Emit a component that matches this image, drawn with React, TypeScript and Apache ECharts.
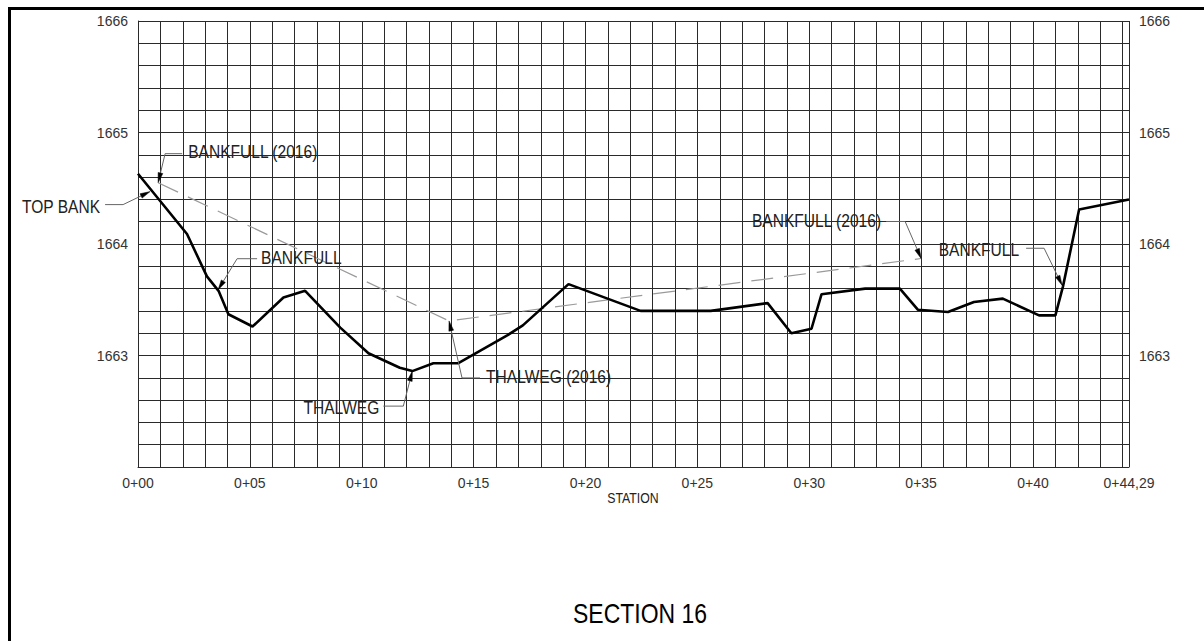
import React, { useEffect, useRef } from "react";
import * as echarts from "echarts";

// ---- data ----
const profileStations = [0, 2.19, 3.08, 3.6, 4.04, 5.12, 6.5, 7.47, 9.04, 10.3, 11.7, 12.26, 13.2, 14.3, 16.5, 17.2, 19.24, 22.46, 25.6, 28.14, 29.2, 30.1, 30.55, 32.5, 34.05, 34.86, 36.2, 37.36, 38.65, 40.27, 41.0, 41.34, 42.06, 44.29];
const profileElevations = [1664.63, 1664.09, 1663.71, 1663.58, 1663.37, 1663.26, 1663.52, 1663.58, 1663.25, 1663.02, 1662.89, 1662.86, 1662.93, 1662.93, 1663.18, 1663.27, 1663.64, 1663.4, 1663.4, 1663.47, 1663.2, 1663.24, 1663.55, 1663.6, 1663.6, 1663.41, 1663.39, 1663.48, 1663.51, 1663.36, 1663.36, 1663.62, 1664.31, 1664.4];

const bankfull2016Stations = [0.9, 13.9, 35.0];
const bankfull2016Elevations = [1664.55, 1663.31, 1663.87];

const annotationLabels = ["TOP BANK", "BANKFULL (2016)", "BANKFULL", "THALWEG", "THALWEG (2016)", "BANKFULL (2016)", "BANKFULL"];
const annotationStations = [0.54, 0.9, 3.58, 12.26, 13.9, 35.0, 41.3];
const annotationElevations = [1664.47, 1664.55, 1663.59, 1662.86, 1663.31, 1663.87, 1663.63];

const xMin = 0;
const xMax = 44.29;
const yMin = 1662;
const yMax = 1666;

const xAxisTitle = "STATION";
const chartTitle = "SECTION 16";

// ---- layout (pixel offsets from each annotation's target point) ----
type Ann = { elbow: [number, number]; end: [number, number]; text: [number, number]; align: "left" | "right" };
const annotationLayout: Ann[] = [
  { elbow: [-27, 13], end: [-45, 13], text: [-50, 15], align: "right" },
  { elbow: [7, -29], end: [24, -29], text: [30, -31], align: "left" },
  { elbow: [19, -31], end: [39, -31], text: [43, -32], align: "left" },
  { elbow: [-9, 35], end: [-29, 35], text: [-33, 36], align: "right" },
  { elbow: [13, 57], end: [31, 57], text: [37, 56], align: "left" },
  { elbow: [-16, -37], end: [-35, -37], text: [-40, -38], align: "right" },
  { elbow: [-18, -37], end: [-36, -37], text: [-43, -36], align: "right" },
];

const FONT = '"Liberation Sans", Arial, sans-serif';
const NARROW = 0.82;

function pad2(n: number) {
  return n < 10 ? "0" + n : String(n);
}

export default function App() {
  const ref = useRef<HTMLDivElement>(null);

  useEffect(() => {
    if (!ref.current) return;
    const chart = echarts.init(ref.current, undefined, { renderer: "svg" });

    const profile = profileStations.map((s, i) => [s, profileElevations[i]]);
    const bankfull = bankfull2016Stations.map((s, i) => [s, bankfull2016Elevations[i]]);
    const annData = annotationStations.map((s, i) => [s, annotationElevations[i]]);

    const gridLine = { show: true, lineStyle: { color: "#2a2a2a", width: 1 } };
    const yLabelFmt = (v: number) => {
      const r = Math.round(v);
      return Math.abs(v - r) < 1e-6 && r > yMin ? String(r) : "";
    };

    chart.setOption({
      animation: false,
      backgroundColor: "#fff",
      grid: { left: 138, right: 75, top: 21, bottom: 174, containLabel: false },
      xAxis: {
        type: "value",
        min: xMin,
        max: xMax,
        interval: 1,
        axisLine: { show: true, lineStyle: { color: "#2a2a2a", width: 1 } },
        axisTick: { show: false },
        splitLine: gridLine,
        axisLabel: {
          color: "#333",
          fontFamily: FONT,
          fontSize: 14,
          margin: 9,
          showMinLabel: true,
          showMaxLabel: true,
          formatter: (v: number) => {
            if (Math.abs(v - xMax) < 1e-6) return "0+44,29";
            const r = Math.round(v);
            if (Math.abs(v - r) < 1e-6 && r % 5 === 0 && r <= 40) return "0+" + pad2(r);
            return "";
          },
        },
      },
      yAxis: [
        {
          type: "value",
          min: yMin,
          max: yMax,
          interval: 0.2,
          position: "left",
          axisLine: { show: true, lineStyle: { color: "#2a2a2a", width: 1 } },
          axisTick: { show: false },
          splitLine: gridLine,
          axisLabel: { color: "#333", fontFamily: FONT, fontSize: 14, margin: 10, formatter: yLabelFmt },
        },
        {
          type: "value",
          min: yMin,
          max: yMax,
          interval: 0.2,
          position: "right",
          axisLine: { show: false },
          axisTick: { show: false },
          splitLine: { show: false },
          axisLabel: { color: "#333", fontFamily: FONT, fontSize: 14, margin: 10, formatter: yLabelFmt },
        },
      ],
      series: [
        {
          type: "line",
          name: "Bankfull 2016",
          data: bankfull,
          symbol: "none",
          lineStyle: { color: "#9a9a9a", width: 1.2, type: [22, 11] },
          z: 3,
        },
        {
          type: "line",
          name: "Profile",
          data: profile,
          symbol: "none",
          lineStyle: { color: "#000", width: 2.6 },
          z: 4,
        },
        {
          type: "custom",
          name: "Annotations",
          coordinateSystem: "cartesian2d",
          data: annData,
          clip: false,
          z: 5,
          renderItem: (params: any, api: any) => {
            const i = params.dataIndex;
            const L = annotationLayout[i];
            const tip = api.coord([api.value(0), api.value(1)]);
            const elbow = [tip[0] + L.elbow[0], tip[1] + L.elbow[1]];
            const end = [tip[0] + L.end[0], tip[1] + L.end[1]];
            let dx = tip[0] - elbow[0];
            let dy = tip[1] - elbow[1];
            const len = Math.sqrt(dx * dx + dy * dy) || 1;
            dx /= len;
            dy /= len;
            const alen = 10;
            const aw = 2.4;
            const base = [tip[0] - dx * alen, tip[1] - dy * alen];
            const nx = -dy;
            const ny = dx;
            return {
              type: "group",
              children: [
                {
                  type: "polyline",
                  shape: { points: [end, elbow, base] },
                  style: { stroke: "#666", lineWidth: 1, fill: null },
                },
                {
                  type: "polygon",
                  shape: {
                    points: [
                      tip,
                      [base[0] + nx * aw, base[1] + ny * aw],
                      [base[0] - nx * aw, base[1] - ny * aw],
                    ],
                  },
                  style: { fill: "#000", stroke: "#000", lineWidth: 0.5 },
                },
                {
                  type: "text",
                  x: tip[0] + L.text[0],
                  y: tip[1] + L.text[1],
                  scaleX: NARROW,
                  style: {
                    text: annotationLabels[i],
                    fontFamily: FONT,
                    fontSize: 19,
                    fill: "#222",
                    align: L.align,
                    verticalAlign: "middle",
                  },
                },
              ],
            };
          },
        },
      ],
      graphic: [
        {
          type: "rect",
          shape: { x: 9.5, y: 8.5, width: 1300, height: 1000 },
          style: { fill: "none", stroke: "#000", lineWidth: 3 },
          silent: true,
        },
        {
          type: "text",
          x: 633,
          y: 498,
          scaleX: NARROW,
          style: {
            text: xAxisTitle,
            fontFamily: FONT,
            fontSize: 15,
            fill: "#222",
            align: "center",
            verticalAlign: "middle",
          },
        },
        {
          type: "text",
          x: 640,
          y: 613,
          scaleX: NARROW,
          style: {
            text: chartTitle,
            fontFamily: FONT,
            fontSize: 28,
            fill: "#000",
            align: "center",
            verticalAlign: "middle",
          },
        },
      ],
    });

    return () => chart.dispose();
  }, []);

  return (
    <div
      ref={ref}
      style={{ position: "absolute", left: 0, top: 0, width: 1204, height: 641 }}
    />
  );
}
